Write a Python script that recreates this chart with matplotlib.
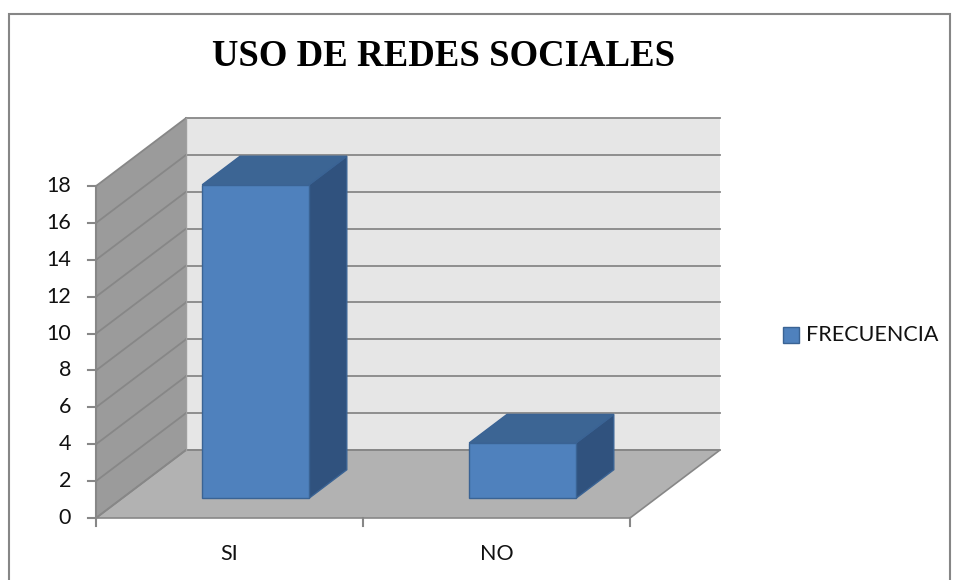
import matplotlib.pyplot as plt
from matplotlib.patches import Polygon, Rectangle

# data
categories = ["SI", "NO"]
frecuencia = [17, 3]
y_ticks = [0, 2, 4, 6, 8, 10, 12, 14, 16, 18]
series_name = "FRECUENCIA"
title = "USO DE REDES SOCIALES"

W, H = 955, 580
fig = plt.figure(figsize=(W / 100, H / 100), dpi=100)
ax = fig.add_axes([0, 0, 1, 1])

# chart units: 1 category = 267 px, 1 value unit = 18.44 px, origin at pixel (96, 518)
px_x, px_y = 267.0, 18.44
x0, y0 = 96, 518
ax.set_xlim(-x0 / px_x, (W - x0) / px_x)
ax.set_ylim(-(H - y0) / px_y, y0 / px_y)
ax.axis("off")

# oblique depth offset (full depth)
ox, oy = 90 / px_x, 68 / px_y
ymax = y_ticks[-1]
n = len(categories)
grid_c = "#878787"
lab_font = dict(fontsize=15.5, family="Lato", color="#111111")

# walls and floor
ax.add_patch(Polygon([(ox, oy), (n + ox, oy), (n + ox, ymax + oy), (ox, ymax + oy)],
                     closed=True, facecolor="#E6E6E6", edgecolor="none", zorder=1))
ax.add_patch(Polygon([(0, 0), (0, ymax), (ox, ymax + oy), (ox, oy)],
                     closed=True, facecolor="#9B9B9B", edgecolor="none", zorder=1))
ax.add_patch(Polygon([(0, 0), (n, 0), (n + ox, oy), (ox, oy)],
                     closed=True, facecolor="#B2B2B2", edgecolor=grid_c, lw=1.2, zorder=2))

# gridlines
for v in y_ticks:
    ax.plot([0, ox], [v, v + oy], color=grid_c, lw=1.3, zorder=2)
    ax.plot([ox, n + ox], [v + oy, v + oy], color=grid_c, lw=1.3, zorder=2)
ax.plot([ox, ox], [oy, ymax + oy], color="#A0A0A0", lw=1.0, zorder=2)

# axes lines and ticks
tick_x = 8 / px_x
tick_y = 8 / px_y
ax.plot([0, 0], [0, ymax], color=grid_c, lw=1.5, zorder=3)
for v in y_ticks:
    ax.plot([-tick_x, 0], [v, v], color=grid_c, lw=1.5, zorder=3)
    ax.text(-25 / px_x, v, str(v), ha="right", va="center", **lab_font)
for i in range(n + 1):
    ax.plot([i, i], [0, -tick_y], color=grid_c, lw=1.5, zorder=3)
for i, c in enumerate(categories):
    ax.text(i + 0.5, -36 / px_y, c, ha="center", va="center", **lab_font)

# 3D bars
bar_w = 0.4
d_front, d_back = 0.29, 0.71
front_c, top_c, side_c, edge_c = "#4F81BD", "#3C6594", "#30527E", "#3A6394"
for i, v in enumerate(frecuencia):
    xl = i + 0.5 - bar_w / 2 + d_front * ox
    xr = xl + bar_w
    yb = d_front * oy
    yt = v + d_front * oy
    dx = (d_back - d_front) * ox
    dy = (d_back - d_front) * oy
    ax.add_patch(Polygon([(xr, yb), (xr + dx, yb + dy), (xr + dx, yt + dy), (xr, yt)],
                         closed=True, facecolor=side_c, edgecolor=edge_c, lw=1, zorder=5))
    ax.add_patch(Polygon([(xl, yt), (xr, yt), (xr + dx, yt + dy), (xl + dx, yt + dy)],
                         closed=True, facecolor=top_c, edgecolor=edge_c, lw=1, zorder=5))
    ax.add_patch(Polygon([(xl, yb), (xr, yb), (xr, yt), (xl, yt)],
                         closed=True, facecolor=front_c, edgecolor=edge_c, lw=1, zorder=6))

# legend
fig.patches.append(Rectangle((783 / W, 1 - 343 / H), 16 / W, 16 / H,
                             transform=fig.transFigure, facecolor=front_c,
                             edgecolor=edge_c, lw=1))
fig.text(806 / W, 1 - 335 / H, series_name, ha="left", va="center", **lab_font)

# title
fig.text(444 / W, 1 - 57 / H, title, ha="center", va="center",
         fontsize=26.5, fontweight="bold", family="Liberation Serif", color="black")

# outer border
fig.patches.append(Rectangle((9 / W, -0.05), 941 / W, 1 - 14 / H + 0.05,
                             transform=fig.transFigure, facecolor="none",
                             edgecolor="#868686", lw=1.5))

fig.savefig("out.png", dpi=100)
